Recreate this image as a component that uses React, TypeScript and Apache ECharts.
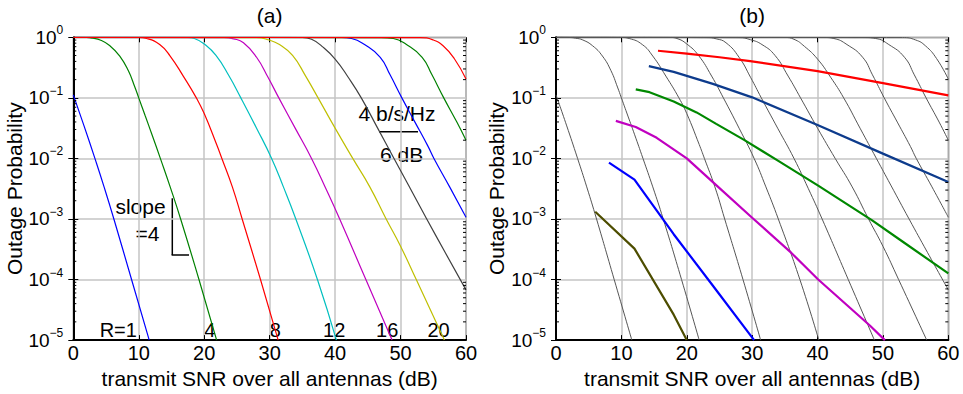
import React, { useEffect, useRef } from 'react';
import * as echarts from 'echarts';

const FONT = '"Liberation Sans", Arial, Helvetica, sans-serif';

// x axis ticks (transmit SNR, dB)
const snrMin = 0;
const snrMax = 60;
const snrStep = 10;
// y axis range (outage probability)
const probMin = 1e-5;
const probMax = 1;

// ---- panel (a): outage probability vs SNR for rates R = 1, 4, 8, ..., 36 b/s/Hz ----
const rate1 = [[0, 0.112], [1.6, 0.0355], [3.3, 0.01], [4.7, 0.00339], [6.2, 0.001], [8.9, 1e-4], [11.6, 1e-5]];
const rate4 = [[0, 1], [2.0, 0.993], [3.0, 0.966], [4.1, 0.904], [5.6, 0.724], [7.1, 0.49], [8.4, 0.282], [9.4, 0.151], [10.0, 0.1], [11.0, 0.0501], [12.0, 0.0251], [13.3, 0.01], [14.8, 0.00339], [16.4, 0.001], [19.2, 1e-4], [21.9, 1e-5]];
const rate8 = [[0, 1], [10.0, 0.993], [11.2, 0.955], [13.2, 0.759], [14.8, 0.49], [16.8, 0.229], [18.8, 0.1], [20.0, 0.055], [21.9, 0.017], [22.7, 0.01], [24.3, 0.00339], [25.8, 0.001], [28.6, 1e-4], [31.3, 1e-5]];
const rate12 = [[0, 1], [17.5, 0.993], [18.5, 0.955], [20.0, 0.776], [21.8, 0.501], [23.8, 0.229], [25.6, 0.1], [28.0, 0.0316], [30.3, 0.01], [32.1, 0.00339], [34.0, 0.001], [37.3, 1e-4], [40.2, 1e-5]];
const rate16 = [[0, 1], [23.0, 0.989], [24.5, 0.944], [26.0, 0.813], [28.0, 0.468], [29.75, 0.219], [31.4, 0.1], [33.9, 0.0316], [36.4, 0.01], [38.6, 0.00316], [40.7, 0.001], [44.7, 1e-4], [48.7, 1e-5]];
const rate20 = [[0, 1], [28.0, 0.986], [29.75, 0.912], [31.5, 0.759], [33.5, 0.501], [35.5, 0.229], [37.4, 0.1], [40.0, 0.0316], [42.7, 0.01], [45.3, 0.00339], [47.8, 0.001], [50.0, 0.000355], [52.4, 1e-4], [56.7, 1e-5]];
const rate24 = [[0, 1], [35.0, 0.993], [36.4, 0.927], [38.0, 0.708], [40.0, 0.437], [42.0, 0.219], [44.0, 0.1], [46.5, 0.0316], [49.0, 0.01], [51.2, 0.00363], [54.0, 0.001], [56.8, 0.000282], [60, 6.76e-5]];
const rate28 = [[0, 1], [41.0, 0.993], [42.5, 0.955], [44.5, 0.759], [46.9, 0.468], [48.4, 0.24], [50.2, 0.1], [52.2, 0.0398], [54.2, 0.0158], [55.1, 0.01], [57.5, 0.00339], [60, 0.00107]];
const rate32 = [[0, 1], [47.0, 0.989], [48.9, 0.955], [50.9, 0.759], [53.3, 0.468], [54.8, 0.24], [56.6, 0.1], [58.6, 0.0398], [60, 0.02]];
const rate36 = [[0, 1], [53.0, 0.989], [55.0, 0.904], [56.5, 0.724], [58.2, 0.447], [60, 0.204]];

const rateCurves = [rate1, rate4, rate8, rate12, rate16, rate20, rate24, rate28, rate32, rate36];
const rateColors = ['#0000ff', '#008000', '#ff0000', '#00bfbf', '#bf00bf', '#bfbf00', '#404040', '#0000ff', '#008000', '#ff0000'];

// labels under the curves in (a)
const rateLabels = ['R=1', '4', '8', '12', '16', '20'];
const rateLabelX = [118.3, 209.7, 275.2, 334.2, 387.2, 438.5];

// ---- panel (b): coloured scheme curves over the gray outage curves ----
const schemeRed = [[15.6, 0.6], [20, 0.537], [25, 0.468], [29.7, 0.404], [40, 0.277], [50, 0.175], [60, 0.11]];
const schemeNavy = [[14.2, 0.335], [18, 0.269], [24, 0.17], [30, 0.102], [40, 0.0355], [50, 0.012], [60, 0.00407]];
const schemeGreen = [[12.2, 0.138], [14.3, 0.124], [18.0, 0.0871], [21.5, 0.0575], [24.5, 0.0372], [28.7, 0.0204], [34.0, 0.00912], [40.1, 0.00355], [48.3, 0.000955], [53.1, 0.000417], [60, 0.000126]];
const schemeMagenta = [[9.15, 0.0417], [12.2, 0.0331], [15.4, 0.0219], [20.0, 0.01], [24.5, 0.00363], [30.0, 0.00105], [36.0, 0.000275], [40.1, 1e-4], [48.0, 1.74e-5], [50.3, 1e-5]];
const schemeBlue = [[8.1, 0.00851], [12.0, 0.00447], [18.0, 0.00056], [24.0, 7.9e-5], [30.3, 1e-5]];
const schemeOlive = [[6.0, 0.00132], [12.0, 0.000324], [18.0, 2.63e-5], [20.0, 1e-5]];

const schemeCurves = [schemeRed, schemeNavy, schemeGreen, schemeMagenta, schemeBlue, schemeOlive];
const schemeColors = ['#ff0000', '#0d3b8c', '#008800', '#c000c0', '#0000ff', '#4d4d00'];

// minor log ticks (2..9 in each decade)
const minorMantissas = [2, 3, 4, 5, 6, 7, 8, 9];
const decades = [1e-5, 1e-4, 1e-3, 1e-2, 1e-1];

const xTitle = 'transmit SNR over all antennas (dB)';
const yTitle = 'Outage Probability';

function yLabel(v: number) {
  const e = Math.round(Math.log10(v));
  const s = e < 0 ? '\u2212' + (-e) : String(e);
  return `{b|10}{s|${s}}`;
}

function makeX(gridIndex: number) {
  return [
    {
      type: 'value', gridIndex, min: snrMin, max: snrMax, interval: snrStep,
      axisLine: { show: true, onZero: false, lineStyle: { color: '#000', width: 2 } },
      axisTick: { show: true, inside: true, length: 5, lineStyle: { color: '#000', width: 1 } },
      axisLabel: { margin: 3, fontSize: 20, color: '#000', fontFamily: FONT },
      splitLine: { show: true, lineStyle: { color: '#c4c4c4', width: 1.5 } },
      name: xTitle, nameLocation: 'middle', nameGap: 27,
      nameTextStyle: { fontSize: 21, color: '#000', fontFamily: FONT },
    },
    {
      type: 'value', gridIndex, position: 'top', min: snrMin, max: snrMax, interval: snrStep,
      axisLine: { show: false },
      axisTick: { show: true, inside: true, length: 5, lineStyle: { color: '#000', width: 1 } },
      axisLabel: { show: false }, splitLine: { show: false },
    },
  ];
}

function makeY(gridIndex: number) {
  return [
    {
      type: 'log', logBase: 10, gridIndex, min: probMin, max: probMax,
      axisLine: { show: true, lineStyle: { color: '#000', width: 2 } },
      axisTick: { show: true, inside: true, length: 5, lineStyle: { color: '#000', width: 1 } },
      axisLabel: {
        margin: 10, color: '#000', fontFamily: FONT, formatter: yLabel,
        rich: {
          b: { fontSize: 19, lineHeight: 26, fontFamily: FONT, color: '#000' },
          s: { fontSize: 12, lineHeight: 12, verticalAlign: 'top', fontFamily: FONT, color: '#000' },
        },
      },
      splitLine: { show: true, lineStyle: { color: '#c4c4c4', width: 1.5 } },
      name: yTitle, nameLocation: 'middle', nameGap: 40, nameRotate: 90,
      nameTextStyle: { fontSize: 21, color: '#000', fontFamily: FONT },
    },
    {
      type: 'log', logBase: 10, gridIndex, position: 'right', min: probMin, max: probMax,
      axisLine: { show: false },
      axisTick: { show: true, inside: true, length: 5, lineStyle: { color: '#000', width: 1 } },
      axisLabel: { show: false }, splitLine: { show: false },
    },
  ];
}

function minorTickSeries(axisIndex: number) {
  const data: number[][] = [];
  decades.forEach((d) => minorMantissas.forEach((m) => data.push([snrMin, m * d])));
  return {
    type: 'custom', xAxisIndex: axisIndex, yAxisIndex: axisIndex, silent: true, clip: false, z: 5,
    data,
    renderItem: (_p: any, api: any) => {
      const v = api.value(1);
      const a = api.coord([snrMin, v]);
      const b = api.coord([snrMax, v]);
      return {
        type: 'group',
        children: [
          { type: 'line', shape: { x1: a[0], y1: a[1], x2: a[0] + 3, y2: a[1] }, style: { stroke: '#000', lineWidth: 1 } },
          { type: 'line', shape: { x1: b[0] - 3, y1: b[1], x2: b[0], y2: b[1] }, style: { stroke: '#000', lineWidth: 1 } },
        ],
      };
    },
  };
}

function txt(text: string, x: number, y: number, size: number) {
  return {
    type: 'text', x, y, silent: true,
    style: { text, fill: '#000', font: `${size}px ${FONT}`, textAlign: 'center', textVerticalAlign: 'middle' },
  };
}

function seg(x1: number, y1: number, x2: number, y2: number) {
  return { type: 'line', silent: true, shape: { x1, y1, x2, y2 }, style: { stroke: '#000', lineWidth: 1.5 } };
}

function buildOption() {
  const series: any[] = [];
  rateCurves.forEach((data, i) => {
    series.push({
      type: 'line', xAxisIndex: 0, yAxisIndex: 0, data, symbol: 'none', smooth: 0.5,
      lineStyle: { color: rateColors[i], width: 1.2 }, silent: true, z: 3,
    });
  });
  rateCurves.forEach((data) => {
    series.push({
      type: 'line', xAxisIndex: 2, yAxisIndex: 2, data, symbol: 'none', smooth: 0.5,
      lineStyle: { color: '#555555', width: 1 }, silent: true, z: 3,
    });
  });
  schemeCurves.forEach((data, i) => {
    series.push({
      type: 'line', xAxisIndex: 2, yAxisIndex: 2, data, symbol: 'none',
      lineStyle: { color: schemeColors[i], width: 2.2 }, silent: true, z: 4,
    });
  });
  series.push(minorTickSeries(0));
  series.push(minorTickSeries(2));

  const graphic: any[] = [
    txt('(a)', 269.6, 15, 21),
    txt('(b)', 752.2, 15, 21),
    txt('4 b/s/Hz', 397, 113.5, 21),
    seg(379, 131.7, 418, 131.7),
    txt('6 dB', 401.7, 154.5, 21),
    txt('slope', 140.5, 206, 21),
    txt('=4', 147.5, 233, 21),
    seg(172.3, 198.3, 172.3, 255),
    seg(171.6, 255, 189, 255),
  ];
  rateLabels.forEach((t, i) => graphic.push(txt(t, rateLabelX[i], 330, 20)));

  return {
    animation: false,
    backgroundColor: '#ffffff',
    textStyle: { fontFamily: FONT },
    grid: [
      { left: 73.3, top: 37.3, width: 392.7, height: 309, show: true, borderColor: '#333', borderWidth: 1, backgroundColor: 'transparent' },
      { left: 556, top: 37.3, width: 392.3, height: 309, show: true, borderColor: '#333', borderWidth: 1, backgroundColor: 'transparent' },
    ],
    xAxis: [...makeX(0), ...makeX(1)],
    yAxis: [...makeY(0), ...makeY(1)],
    series,
    graphic,
  };
}

export default function App() {
  const ref = useRef<HTMLDivElement>(null);
  useEffect(() => {
    if (!ref.current) return;
    const chart = echarts.init(ref.current, null, { renderer: 'svg' });
    chart.setOption(buildOption() as any);
    return () => chart.dispose();
  }, []);
  return (
    <div
      ref={ref}
      style={{ position: 'fixed', left: 0, top: 0, width: 963, height: 394, background: '#fff' }}
    />
  );
}
